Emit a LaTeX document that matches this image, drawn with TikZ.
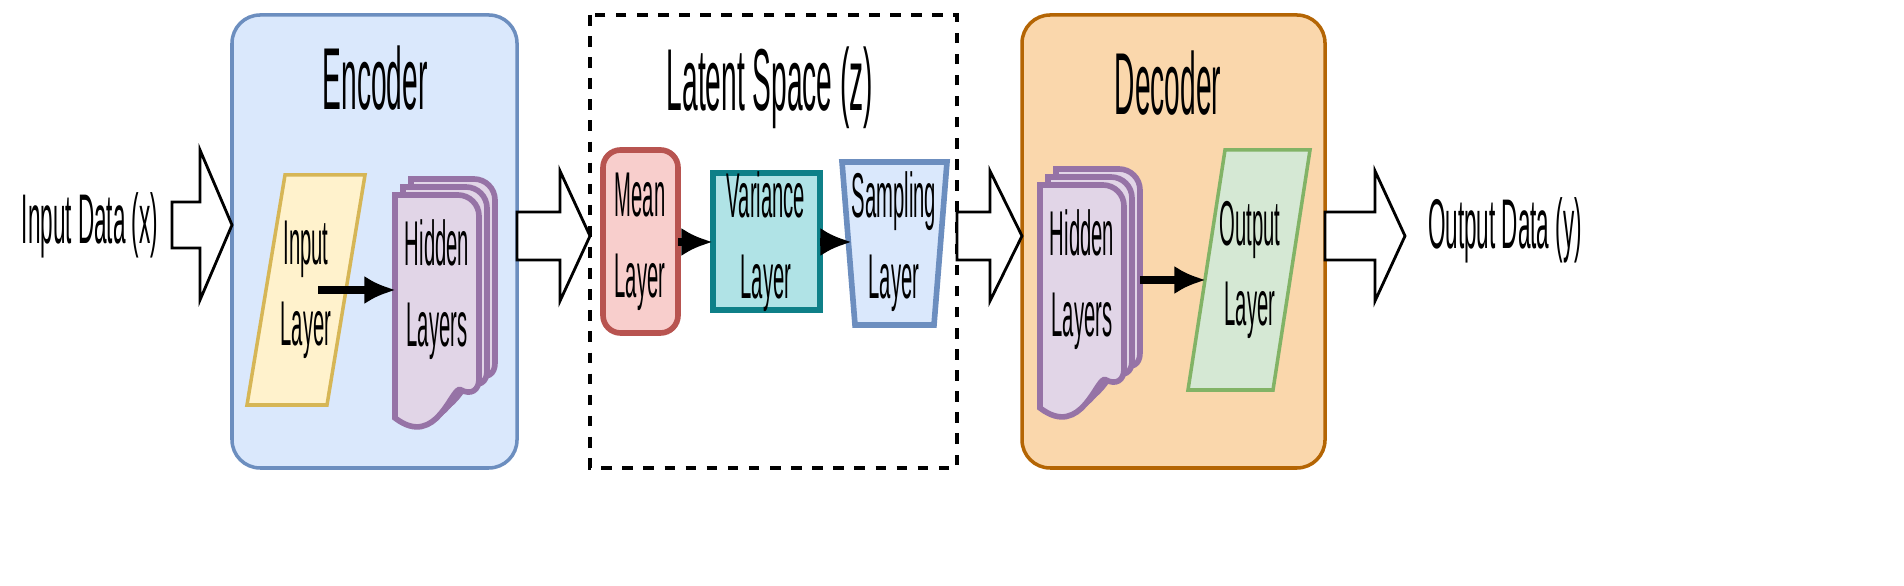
\documentclass[tikz,border=0pt]{standalone}
\usepackage{fontspec}
\setmainfont[FakeStretch=0.32]{Liberation Sans}
\usepackage{tikz}
\usetikzlibrary{arrows.meta}
\definecolor{encFill}{HTML}{DAE8FC}\definecolor{encLine}{HTML}{6C8EBF}
\definecolor{decFill}{HTML}{FAD7AC}\definecolor{decLine}{HTML}{B46504}
\definecolor{inFill}{HTML}{FFF2CC}\definecolor{inLine}{HTML}{D6B656}
\definecolor{hidFill}{HTML}{E1D5E7}\definecolor{hidLine}{HTML}{9673A6}
\definecolor{meanFill}{HTML}{F8CECC}\definecolor{meanLine}{HTML}{B85450}
\definecolor{varFill}{HTML}{B0E3E6}\definecolor{varLine}{HTML}{0E8088}
\definecolor{outFill}{HTML}{D5E8D4}\definecolor{outLine}{HTML}{82B366}
\tikzstyle{panel} = [draw,rounded corners=8pt,line width=1pt]
\tikzstyle{title} = [font=\fontsize{25}{28}\selectfont]
\tikzstyle{label} = [font=\fontsize{18}{23}\selectfont,align=center,inner sep=0pt]
\tikzstyle{bigArrow} = [draw,fill=white,line width=0.8pt,line join=miter]
\tikzstyle{arrowLine} = [draw,-{Latex[length=9pt,width=8pt]},line width=2pt]
% x0 (tail), x1 (head start), x2 (tip), y, shaft half, head half
\newcommand{\bigarrow}[6]{%
  \path[bigArrow] (#1,#4-#5) -- (#2,#4-#5) -- (#2,#4-#6) -- (#3,#4) -- (#2,#4+#6)
    -- (#2,#4+#5) -- (#1,#4+#5) -- cycle;}
\newcommand{\docpage}[3]{% x, y, style
  \path[#3,rounded corners=6pt] (#1-42,#2-105) -- (#1+42,#2-105) -- (#1+42,#2+100)
    [sharp corners] .. controls (#1+15,#2+85) and (#1,#2+150) .. (#1-42,#2+118) -- cycle;}
\newcommand{\docstack}[2]{%
  \foreach \k in {16,8,0}{\docpage{#1+\k}{#2-\k}{draw=hidLine,fill=hidFill,line width=1.6pt}}}

\begin{document}
\begin{tikzpicture}[x=0.01cm,y=-0.01cm]
	\useasboundingbox (0,0) rectangle (1904,586);
	%panels
	\path[panel,fill=encFill,draw=encLine](232,15) rectangle (517,468);
	\path[draw,dashed,line width=1pt](590,15) rectangle (957,468);
	\path[panel,fill=decFill,draw=decLine](1022,15) rectangle (1325,468);
	\node[title](encoder) at (375,78){Encoder};
	\node[title](latent) at (770,88){Latent Space (z)};
	\node[title](decoder) at (1168,83){Decoder};
	%big arrows
	\bigarrow{172}{200}{232}{225}{23}{75}
	\bigarrow{517}{560}{590}{236}{24}{65}
	\bigarrow{957}{990}{1022}{236}{24}{65}
	\bigarrow{1325}{1375}{1405}{236}{24}{65}
	\node[label,font=\fontsize{20}{24}\selectfont](inputData) at (90,225){Input Data (x)};
	\node[label,font=\fontsize{20}{24}\selectfont](outputData) at (1505,230){Output Data (y)};
	%encoder
	\path[draw=inLine,fill=inFill,line width=1pt](285,175) -- (365,175) -- (327,405) -- (247,405) -- cycle;
	\node[label](inputLayer) at (306,290){Input\\Layer};
	\docstack{437}{300}
	\node[label](encHidden) at (437,290){Hidden\\Layers};
	%latent space
	\path[draw=meanLine,fill=meanFill,line width=1.6pt,rounded corners=5pt](603,150) rectangle (678,333);
	\node[label](mean) at (640,242){Mean\\Layer};
	\path[draw=varLine,fill=varFill,line width=1.6pt](713,173) rectangle (820,310);
	\node[label](variance) at (766,242){Variance\\Layer};
	\path[draw=encLine,fill=encFill,line width=1.6pt](842,162) -- (947,162) -- (934,325) -- (855,325) -- cycle;
	\node[label](sampling) at (894,242){Sampling\\Layer};
	%decoder
	\docstack{1082}{290}
	\node[label](decHidden) at (1082,280){Hidden\\Layers};
	\path[draw=outLine,fill=outFill,line width=1pt](1225,150) -- (1310,150) -- (1273,390) -- (1188,390) -- cycle;
	\node[label](outputLayer) at (1250,270){Output\\Layer};
	%arrows
	\path[arrowLine](318,290)--(396,290);
	\path[arrowLine](678,242)--(713,242);
	\path[arrowLine](820,242)--(852,242);
	\path[arrowLine](1140,280)--(1206,280);
\end{tikzpicture}
\end{document}
